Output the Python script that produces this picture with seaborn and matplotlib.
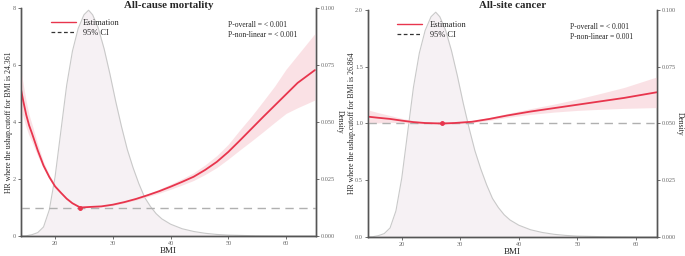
import matplotlib
matplotlib.use("Agg")
import matplotlib.pyplot as plt
import seaborn as sns
import numpy as np
import pandas as pd
from matplotlib.lines import Line2D

# BMI distribution (density)
dens_bmi = [14.0, 15.0, 16.0, 17.0, 18.0, 19.0, 20.0, 21.0, 22.0, 23.0, 24.0, 25.0, 25.8,
            26.5, 27.5, 28.5, 29.5, 30.5, 31.5, 32.5, 33.5, 34.5, 35.5, 36.5, 37.5, 38.5,
            40.0, 42.0, 44.0, 46.0, 48.0, 50.0, 55.0, 60.0, 65.0]
dens_val = [0.0, 0.0001, 0.0006, 0.0015, 0.004, 0.0115, 0.026, 0.046, 0.066, 0.081, 0.091,
            0.097, 0.099, 0.097, 0.091, 0.082, 0.071, 0.059, 0.048, 0.038, 0.030, 0.023,
            0.017, 0.013, 0.0098, 0.0075, 0.0052, 0.0032, 0.002, 0.0012, 0.0007, 0.0004,
            0.0001, 0.0, 0.0]

# All-cause mortality
mort_bmi = [14.0, 14.5, 15.0, 15.5, 16.0, 17.0, 18.0, 19.0, 20.0, 21.0, 22.0, 23.0, 24.361,
            26.0, 28.0, 30.0, 32.0, 34.0, 36.0, 38.0, 40.0, 42.0, 44.0, 46.0, 48.0, 50.0,
            52.0, 54.0, 56.0, 58.0, 60.0, 62.0, 65.0]
mort_hr = [5.24, 4.72, 4.25, 3.88, 3.6, 3.0, 2.47, 2.07, 1.74, 1.52, 1.31, 1.15, 1.0,
           1.02, 1.04, 1.1, 1.19, 1.3, 1.43, 1.57, 1.73, 1.9, 2.08, 2.32, 2.6, 2.95,
           3.35, 3.76, 4.17, 4.57, 4.97, 5.37, 5.82]
mort_lo = [4.55, 4.15, 3.8, 3.52, 3.3, 2.8, 2.36, 2.0, 1.69, 1.49, 1.28, 1.13, 0.98,
           1.0, 1.02, 1.07, 1.16, 1.26, 1.38, 1.5, 1.64, 1.79, 1.95, 2.16, 2.4, 2.7,
           3.02, 3.33, 3.65, 3.98, 4.3, 4.5, 4.77]
mort_hi = [5.95, 5.3, 4.72, 4.25, 3.92, 3.22, 2.6, 2.15, 1.8, 1.56, 1.35, 1.17, 1.02,
           1.04, 1.06, 1.13, 1.22, 1.34, 1.48, 1.64, 1.82, 2.01, 2.22, 2.5, 2.82, 3.22,
           3.72, 4.2, 4.72, 5.25, 5.85, 6.35, 7.1]

# All-site cancer
canc_bmi = [14.2, 16.0, 18.0, 20.0, 22.0, 24.0, 26.864, 29.0, 32.0, 35.0, 38.0, 42.0,
            46.0, 50.0, 54.0, 58.0, 63.6]
canc_hr = [1.06, 1.05, 1.04, 1.025, 1.012, 1.004, 1.0, 1.004, 1.015, 1.04, 1.07, 1.105,
           1.135, 1.165, 1.195, 1.225, 1.275]
canc_lo = [1.0, 1.005, 1.01, 1.005, 1.0, 0.997, 0.993, 0.996, 1.006, 1.027, 1.053, 1.08,
           1.1, 1.115, 1.125, 1.133, 1.14]
canc_hi = [1.12, 1.095, 1.07, 1.045, 1.025, 1.011, 1.007, 1.012, 1.024, 1.053, 1.087, 1.13,
           1.17, 1.215, 1.265, 1.317, 1.41]

panels = [
    dict(title="All-cause mortality", bmi=mort_bmi, hr=mort_hr, lo=mort_lo, hi=mort_hi,
         cutoff=24.361, ylim=(0, 8), yticks=[0, 2, 4, 6, 8], ytl=["0", "2", "4", "6", "8"],
         xlim=(14.1, 65.2), p1="P-overall = < 0.001", p2="P-non-linear = < 0.001",
         pos=[0.0307, 0.078, 0.4307, 0.891], ylx=-0.028),
    dict(title="All-site cancer", bmi=canc_bmi, hr=canc_hr, lo=canc_lo, hi=canc_hi,
         cutoff=26.864, ylim=(0, 2), yticks=[0, 0.5, 1.0, 1.5, 2.0],
         ytl=["0.0", "0.5", "1.0", "1.5", "2.0"],
         xlim=(14.2, 63.6), p1="P-overall = < 0.001", p2="P-non-linear = 0.001",
         pos=[0.537, 0.0742, 0.4219, 0.887], ylx=-0.04),
]

sns.set_style("white")
plt.rcParams["font.family"] = ["Liberation Serif", "DejaVu Serif"]

red = "#e8354d"
fig = plt.figure(figsize=(6.85, 2.56), dpi=100)

for p in panels:
    ax = fig.add_axes(p["pos"])
    tw = ax.twinx()
    ax.set_zorder(tw.get_zorder() + 1)
    ax.patch.set_visible(False)

    # density on twin axis
    tw.fill_between(dens_bmi, dens_val, color="#f6f1f4", lw=0)
    sns.lineplot(x=dens_bmi, y=dens_val, ax=tw, color="#c9c9c9", lw=0.8)
    tw.set_ylim(0, 0.1)
    tw.set_yticks([0, 0.025, 0.05, 0.075, 0.1])
    tw.set_yticklabels(["0.000", "0.025", "0.050", "0.075", "0.100"])
    tw.set_ylabel("Density", fontsize=5.5, rotation=270, labelpad=6)

    # HR curve
    ax.axhline(1.0, color="#b0b0b0", lw=1.0, ls=(0, (6, 4)))
    ax.fill_between(p["bmi"], p["lo"], p["hi"], color="#f9d5da", alpha=0.7, lw=0)
    sns.lineplot(x=p["bmi"], y=p["hr"], ax=ax, color=red, lw=1.3)
    ax.plot([p["cutoff"]], [1.0], "o", color=red, ms=2.5)

    ax.set_xlim(*p["xlim"])
    ax.set_ylim(*p["ylim"])
    ax.set_xticks([20, 30, 40, 50, 60])
    ax.set_yticks(p["yticks"])
    ax.set_yticklabels(p["ytl"])
    ax.set_xlabel("BMI", fontsize=6.5, labelpad=1)
    ax.set_ylabel("HR where the ushap.cutoff for BMI is %s" % p["cutoff"], fontsize=5.6)
    ax.yaxis.set_label_coords(p["ylx"], 0.5)
    x0, y0, w, h = p["pos"]
    fig.text(x0 + w / 2, 0.998, p["title"], fontsize=7.8, fontweight="bold", ha="center", va="top")

    for a in (ax, tw):
        a.tick_params(axis="both", labelsize=4.5, labelcolor="#666666", length=2, width=0.6,
                      color="#555555", pad=1.5, direction="out")
        for s in a.spines.values():
            s.set_color("#555555")
            s.set_linewidth(1.0)
        a.spines["top"].set_visible(False)
    ax.tick_params(axis="x", bottom=True)
    ax.tick_params(axis="y", left=True)
    tw.tick_params(axis="y", right=True)

    handles = [Line2D([], [], color=red, lw=1.0), Line2D([], [], color="#333333", lw=0.9, ls=(0, (3, 2)))]
    ax.legend(handles, ["Estimation", "95% CI"], loc="upper left", bbox_to_anchor=(0.075, 0.985),
              frameon=False, fontsize=6, handlelength=3.0, labelspacing=0.3, handletextpad=0.9)
    ax.text(0.70, 0.925, p["p1"], transform=ax.transAxes, fontsize=5.5, va="center")
    ax.text(0.70, 0.88, p["p2"], transform=ax.transAxes, fontsize=5.5, va="center")

fig.savefig("out.png", dpi=100)
